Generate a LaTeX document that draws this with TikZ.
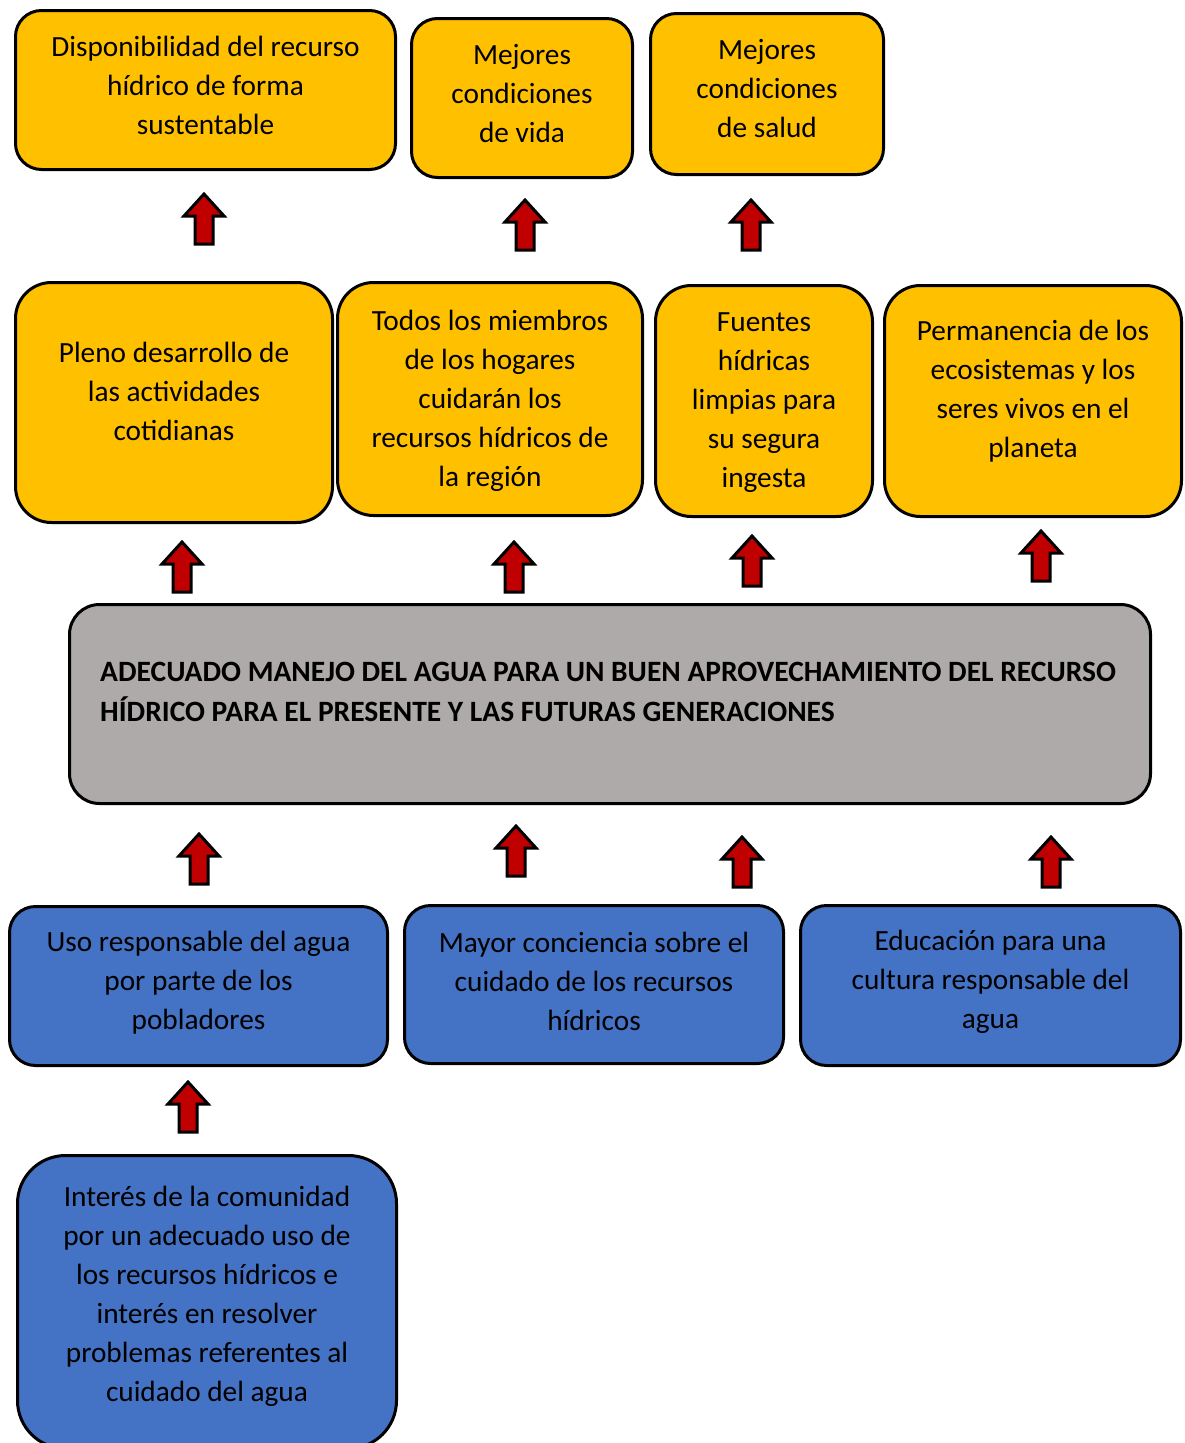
\documentclass[tikz,border=0pt]{standalone}
\usepackage{fontspec}
\setmainfont{Carlito}
\definecolor{ambar}{HTML}{FFC000}
\definecolor{azul}{HTML}{4472C4}
\definecolor{gris}{HTML}{AEAAAA}
\definecolor{rojo}{HTML}{C00000}
\tikzset{
  boxbase/.style={draw=black, line width=3pt, rounded corners=26pt, inner sep=0pt},
  ybox/.style={boxbase, fill=ambar},
  bbox/.style={boxbase, fill=azul},
  gbox/.style={boxbase, fill=gris},
  txt/.style={align=center, inner sep=0pt, font=\fontsize{29.3}{39}\selectfont},
  upar/.pic={\draw[line width=3pt, fill=rojo, line join=miter]
     (-9,25)--(-9,-3)--(-20,-3)--(0,-25)--(20,-3)--(9,-3)--(9,25)--cycle;}
}
\begin{document}
\begin{tikzpicture}[x=1pt,y=-1pt]
\useasboundingbox (0,0) rectangle (1184,1443);
% row 1
\node[ybox, minimum width=380pt, minimum height=159pt] (b1) at (205.5,90) {};
\node[txt] (b1t) at (205.5,85) {Disponibilidad del recurso\\hídrico de forma\\sustentable};
\node[ybox, minimum width=221pt, minimum height=159pt] (b2) at (522,98) {};
\node[txt] (b2t) at (522,93.5) {Mejores\\condiciones\\de vida};
\node[ybox, minimum width=233pt, minimum height=161pt] (b3) at (767,94) {};
\node[txt] (b3t) at (767,88.5) {Mejores\\condiciones\\de salud};
% row 2
\node[ybox, rounded corners=36pt, minimum width=317pt, minimum height=240pt] (c1) at (174,402.5) {};
\node[txt] (c1t) at (174,391) {Pleno desarrollo de\\las actividades\\cotidianas};
\node[ybox, rounded corners=36pt, minimum width=305pt, minimum height=233pt] (c2) at (490,399) {};
\node[txt] (c2t) at (490,400.5) {Todos los miembros\\de los hogares\\cuidarán los\\recursos hídricos de\\la región};
\node[ybox, rounded corners=36pt, minimum width=217pt, minimum height=231pt] (c3) at (764,401) {};
\node[txt] (c3t) at (764,403) {Fuentes\\hídricas\\limpias para\\su segura\\ingesta};
\node[ybox, rounded corners=36pt, minimum width=297pt, minimum height=231pt] (c4) at (1033,401) {};
\node[txt] (c4t) at (1033,391) {Permanencia de los\\ecosistemas y los\\seres vivos en el\\planeta};
% central
\node[gbox, rounded corners=30pt, minimum width=1081pt, minimum height=199pt] (g) at (610,704) {};
\node[txt, align=left, anchor=west, font=\fontsize{29.5}{40}\selectfont\bfseries] (gt) at (100,692)
  {ADECUADO MANEJO DEL AGUA PARA UN BUEN APROVECHAMIENTO DEL RECURSO\\HÍDRICO PARA EL PRESENTE Y LAS FUTURAS GENERACIONES};
% row 3
\node[bbox, minimum width=378pt, minimum height=159pt] (d1) at (198.5,986) {};
\node[txt] (d1t) at (198.5,983) {Uso responsable del agua\\por parte de los\\pobladores};
\node[bbox, minimum width=379pt, minimum height=158pt] (d2) at (594,984.5) {};
\node[txt] (d2t) at (594,981) {Mayor conciencia sobre el\\cuidado de los recursos\\hídricos};
\node[bbox, minimum width=380pt, minimum height=160pt] (d3) at (990.5,985.5) {};
\node[txt] (d3t) at (990.5,981.5) {Educación para una\\cultura responsable del\\agua};
% bottom
\node[bbox, rounded corners=48pt, minimum width=379pt, minimum height=293pt] (e1) at (207,1302) {};
\node[txt] (e1t) at (207,1296) {Interés de la comunidad\\por un adecuado uso de\\los recursos hídricos e\\interés en resolver\\problemas referentes al\\cuidado del agua};
% arrows
\pic at (204,219) {upar};
\pic at (525,225) {upar};
\pic at (751,225) {upar};
\pic at (182,567) {upar};
\pic at (514,567) {upar};
\pic at (752,561) {upar};
\pic at (1041,556) {upar};
\pic at (199,859) {upar};
\pic at (516,851) {upar};
\pic at (742,862) {upar};
\pic at (1051,862) {upar};
\pic at (188,1107) {upar};
\end{tikzpicture}
\end{document}
